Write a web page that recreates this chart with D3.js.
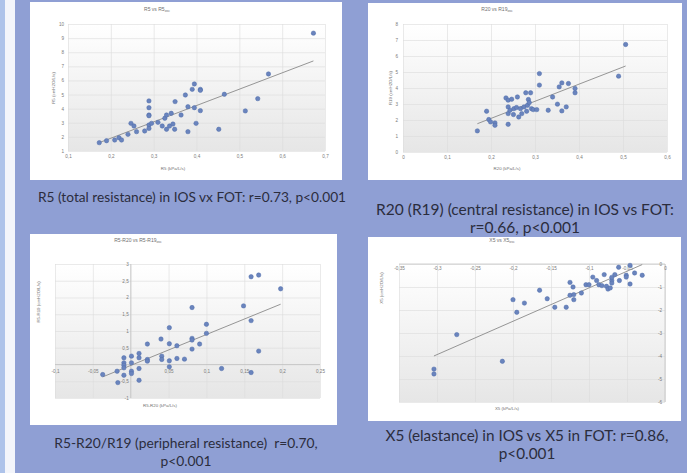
<!DOCTYPE html>
<html>
<head>
    <meta charset='utf-8'>
    <title>IOS vs FOT</title>
    <script src='https://cdn.jsdelivr.net/npm/d3@7'></script>
    <style>
        body { margin: 0; background: #8f9fd4; }
        svg { display: block; }
    </style>
</head>
<body>
    <svg width='687' height='473'></svg>
    <script>
        // ---- data ----
        // R5 vs R5osc
        const r5X = [0.173, 0.19, 0.209, 0.219, 0.225, 0.24, 0.247, 0.254, 0.26, 0.279, 0.289, 0.289, 0.289, 0.289, 0.289, 0.289, 0.295, 0.31, 0.32, 0.326, 0.33, 0.33, 0.337, 0.341, 0.345, 0.349, 0.35, 0.364, 0.374, 0.38, 0.38, 0.39, 0.395, 0.395, 0.399, 0.409, 0.409, 0.409, 0.452, 0.465, 0.514, 0.543, 0.568, 0.673]
        const r5Y = [1.59, 1.73, 1.78, 1.94, 1.78, 2.18, 2.96, 2.77, 2.37, 2.42, 4.55, 4.07, 3.55, 3.5, 2.84, 2.6, 2.96, 3.03, 2.77, 3.32, 3.55, 2.54, 2.77, 3.67, 2.91, 2.54, 4.5, 3.55, 4.97, 4.14, 2.37, 5.37, 5.75, 4.07, 2.96, 5.37, 5.3, 3.86, 2.54, 5.02, 3.84, 4.71, 6.46, 9.35]
        const r5Trend = [-0.41, 11.58]   // intercept, slope
        const r5XTicks = [0.1, 0.2, 0.3, 0.4, 0.5, 0.6, 0.7]
        const r5YTicks = [1, 2, 3, 4, 5, 6, 7, 8, 9, 10]

        // R20 vs R19osc
        const r20X = [0.169, 0.19, 0.195, 0.199, 0.209, 0.209, 0.234, 0.239, 0.239, 0.239, 0.239, 0.243, 0.247, 0.251, 0.252, 0.258, 0.26, 0.263, 0.267, 0.27, 0.275, 0.279, 0.281, 0.283, 0.285, 0.287, 0.29, 0.292, 0.296, 0.304, 0.31, 0.31, 0.33, 0.34, 0.351, 0.355, 0.361, 0.361, 0.371, 0.376, 0.391, 0.391, 0.49, 0.506]
        const r20Y = [1.32, 2.55, 2.03, 1.88, 1.82, 1.67, 3.38, 3.24, 2.82, 2.4, 1.73, 2.61, 3.3, 2.34, 2.71, 2.78, 3.44, 2.19, 2.71, 2.4, 2.82, 3.7, 2.55, 2.92, 3.28, 3.09, 3.7, 2.71, 2.65, 2.65, 4.9, 4.18, 2.61, 3.44, 2.99, 4.07, 4.32, 2.57, 2.82, 4.28, 3.97, 3.7, 4.74, 6.72]
        const r20Trend = [-0.04, 10.7]
        const r20XTicks = [0, 0.1, 0.2, 0.3, 0.4, 0.5, 0.6]
        const r20YTicks = [0, 1, 2, 3, 4, 5, 6, 7, 8]

        // R5-R20 vs R5-R19osc
        const perX = [-0.037, -0.018, -0.017, -0.009, -0.009, -0.009, -0.009, -0.009, 0.001, 0.001, 0.001, 0.001, 0.011, 0.011, 0.011, 0.011, 0.022, 0.022, 0.022, 0.04, 0.041, 0.041, 0.051, 0.051, 0.051, 0.051, 0.061, 0.061, 0.071, 0.081, 0.081, 0.081, 0.081, 0.091, 0.1, 0.1, 0.12, 0.149, 0.159, 0.159, 0.159, 0.169, 0.169, 0.198]
        const perY = [-0.3, -0.2, -0.54, 0.2, 0.05, -0.02, -0.1, -0.32, 0.25, 0.05, -0.2, -0.27, 0.33, 0.2, -0.12, -0.47, 0.61, 0.15, 0.1, 0.76, 0.25, 0.15, 1.1, 0.62, 0.11, -0.07, 0.56, 0.18, 0.16, 1.7, 0.78, 0.73, 0.46, 0.61, 1.2, 0.93, -0.12, 1.75, 2.62, 1.31, -0.24, 2.67, 0.4, 2.26]
        const perTrend = [-0.028, 9.23]
        const perXTicks = [-0.1, -0.05, 0, 0.05, 0.1, 0.15, 0.2, 0.25]
        const perYTicks = [-1, -0.5, 0, 0.5, 1, 1.5, 2, 2.5, 3]

        // X5 vs X5osc
        const x5X = [-0.304, -0.304, -0.274, -0.214, -0.2, -0.195, -0.185, -0.165, -0.155, -0.145, -0.13, -0.125, -0.125, -0.121, -0.12, -0.12, -0.11, -0.104, -0.1, -0.095, -0.09, -0.087, -0.083, -0.08, -0.077, -0.075, -0.072, -0.07, -0.07, -0.07, -0.066, -0.06, -0.061, -0.051, -0.051, -0.046, -0.046, -0.04, -0.03]
        const x5Y = [-4.57, -4.78, -3.07, -4.23, -1.55, -2.1, -1.7, -1.14, -1.51, -1.88, -1.88, -0.8, -1.36, -1.0, -1.55, -1.33, -1.26, -0.9, -0.9, -0.57, -0.72, -0.9, -0.94, -0.46, -0.97, -1.09, -1.04, -0.72, -0.58, -0.83, -0.46, -0.72, -0.14, -0.49, -0.57, -0.06, -0.87, -0.39, -0.49]
        const x5Trend = [0.41, 14.5]
        const x5XTicks = [-0.35, -0.3, -0.25, -0.2, -0.15, -0.1, -0.05, 0]
        const x5YTicks = [-6, -5, -4, -3, -2, -1, 0]

        const captions = [
            ['R5 (total resistance) in IOS vx FOT: r=0.73, p<0.001'],
            ['R20 (R19) (central resistance) in IOS vs FOT:', 'r=0.66, p<0.001'],
            ['R5-R20/R19 (peripheral resistance)  r=0.70,', 'p<0.001'],
            ['X5 (elastance) in IOS vs X5 in FOT: r=0.86,', 'p<0.001']
        ]

        // ---- drawing ----
        const svg = d3.select('svg')
        const comma = d3.formatLocale({ decimal: ',', thousands: '.', grouping: [3], currency: ['', ''], minus: '-' }).format('~g')

        // backdrop strips on the left
        svg.append('rect').attr('width', 687).attr('height', 473).attr('fill', '#8f9fd4')
        svg.append('rect').attr('x', 0).attr('width', 5).attr('height', 473).attr('fill', '#aec3ea')
        svg.append('rect').attr('x', 5).attr('width', 10).attr('height', 473).attr('fill', '#f3f5fb')

        const defs = svg.append('defs')
        const grad = defs.append('linearGradient').attr('id', 'plotfill')
            .attr('x1', 0).attr('y1', 0).attr('x2', 0).attr('y2', 1)
        grad.append('stop').attr('offset', '0%').attr('stop-color', '#ffffff')
        grad.append('stop').attr('offset', '100%').attr('stop-color', '#e6e6e6')

        const smallFont = 'Liberation Sans, Arial, sans-serif'

        function drawChart(c) {
            const g = svg.append('g')
            g.append('rect').attr('x', c.panel[0]).attr('y', c.panel[1])
                .attr('width', c.panel[2]).attr('height', c.panel[3]).attr('fill', '#ffffff')

            const x = d3.scaleLinear(d3.extent(c.xTicks), c.xRange)
            const y = d3.scaleLinear(d3.extent(c.yTicks), c.yRange)
            const left = Math.min(...c.xRange), right = Math.max(...c.xRange)
            const top = Math.min(...c.yRange), bottom = Math.max(...c.yRange)

            // plot area
            g.append('rect').attr('x', left).attr('y', top)
                .attr('width', right - left).attr('height', bottom - top)
                .attr('fill', 'url(#plotfill)')

            // grid
            const gx = g.append('g').attr('transform', `translate(0,${bottom})`)
                .call(d3.axisBottom(x).tickValues(c.xTicks).tickSize(-(bottom - top)).tickFormat(''))
            const gy = g.append('g').attr('transform', `translate(${left},0)`)
                .call(d3.axisLeft(y).tickValues(c.yTicks).tickSize(-(right - left)).tickFormat(''))
            gx.select('.domain').remove()
            gy.select('.domain').remove()
            g.selectAll('.tick line').attr('stroke', '#dcdcdc').attr('stroke-width', 0.6)

            // zero axis lines
            if (c.zeroAxes) {
                g.append('line').attr('x1', left).attr('x2', right)
                    .attr('y1', y(0)).attr('y2', y(0)).attr('stroke', '#bdbdbd').attr('stroke-width', 0.7)
                g.append('line').attr('x1', x(0)).attr('x2', x(0))
                    .attr('y1', top).attr('y2', bottom).attr('stroke', '#bdbdbd').attr('stroke-width', 0.7)
            }

            // tick labels
            const xLab = g.append('g').attr('transform', `translate(0,${c.xAxisAt(y)})`)
                .call(d3.axisBottom(x).tickValues(c.xTicks.filter(c.keepX)).tickSize(0).tickPadding(c.xPad).tickFormat(comma))
            const yLab = g.append('g').attr('transform', `translate(${c.yAxisAt(x)},0)`)
                .call(d3.axisLeft(y).tickValues(c.yTicks.filter(c.keepY)).tickSize(0).tickPadding(c.yPad).tickFormat(comma))
            xLab.select('.domain').remove()
            yLab.select('.domain').remove()
            ;[xLab, yLab].forEach(a => a.selectAll('text')
                .attr('font-family', smallFont).attr('font-size', 4.6).attr('fill', '#7a7a7a'))

            // trend line
            const ext = d3.extent(c.xs)
            g.append('line')
                .attr('x1', x(ext[0])).attr('y1', y(c.trend[0] + c.trend[1] * ext[0]))
                .attr('x2', x(ext[1])).attr('y2', y(c.trend[0] + c.trend[1] * ext[1]))
                .attr('stroke', '#8a8a8a').attr('stroke-width', 0.9)

            // points
            g.append('g').selectAll('circle').data(d3.zip(c.xs, c.ys)).join('circle')
                .attr('cx', d => x(d[0])).attr('cy', d => y(d[1])).attr('r', 2.2)
                .attr('fill', '#6a84bd').attr('stroke', '#4f6cab').attr('stroke-width', 0.5)

            // titles
            const t = g.append('text').attr('x', c.title[1]).attr('y', c.title[2])
                .attr('text-anchor', 'middle').attr('font-family', smallFont)
                .attr('font-size', 5).attr('fill', '#6f6f6f')
            t.append('tspan').text(c.title[0])
            t.append('tspan').attr('dy', 1.2).attr('font-size', 3.4).text('osc')

            g.append('text').attr('transform', `translate(${c.yTitle[1]},${c.yTitle[2]}) rotate(-90)`)
                .attr('text-anchor', 'middle').attr('font-family', smallFont)
                .attr('font-size', 4.4).attr('fill', '#6f6f6f').text(c.yTitle[0])
            g.append('text').attr('x', c.xTitle[1]).attr('y', c.xTitle[2])
                .attr('text-anchor', 'middle').attr('font-family', smallFont)
                .attr('font-size', 4.4).attr('fill', '#6f6f6f').text(c.xTitle[0])

            // caption
            c.caption.forEach((line, i) => {
                svg.append('text').attr('x', c.capPos[0]).attr('y', c.capPos[1] + i * c.capPos[3])
                    .attr('text-anchor', 'middle').attr('font-family', 'Lato, Open Sans, sans-serif')
                    .style('white-space', 'pre')
                    .attr('font-size', c.capPos[2]).attr('fill', '#2b2d3d').text(line)
            })
        }

        const all = () => true
        const notZero = v => v !== 0

        drawChart({
            panel: [30, 2, 312, 178], xs: r5X, ys: r5Y, trend: r5Trend,
            xTicks: r5XTicks, yTicks: r5YTicks, xRange: [68, 325], yRange: [151, 24],
            xAxisAt: y => 151, yAxisAt: x => 68, xPad: 4, yPad: 4, keepX: all, keepY: all,
            title: ['R5 vs R5', 157, 11], yTitle: ['R5 (cmH2O/L/s)', 55, 88], xTitle: ['R5 (kPa/L/s)', 173, 170],
            caption: captions[0], capPos: [192, 201.5, 13.7, 18]
        })
        drawChart({
            panel: [368, 3, 314, 177], xs: r20X, ys: r20Y, trend: r20Trend,
            xTicks: r20XTicks, yTicks: r20YTicks, xRange: [403, 667], yRange: [152, 24],
            xAxisAt: y => 152, yAxisAt: x => 403, xPad: 4, yPad: 5, keepX: all, keepY: all,
            title: ['R20 vs R19', 497, 11], yTitle: ['R19 (cmH2O/L/s)', 392, 88], xTitle: ['R20 (kPa/L/s)', 507, 170],
            caption: captions[1], capPos: [525, 215, 15.5, 17.5]
        })
        drawChart({
            panel: [30, 234, 307, 191], xs: perX, ys: perY, trend: perTrend,
            xTicks: perXTicks, yTicks: perYTicks, xRange: [55, 320], yRange: [398, 264], zeroAxes: true,
            xAxisAt: y => y(0), yAxisAt: x => x(0), xPad: 5, yPad: 2, keepX: notZero, keepY: notZero,
            title: ['R5-R20 vs R5-R19', 138, 242], yTitle: ['R5-R19 (cmH2O/L/s)', 40, 302], xTitle: ['R5-R20 (kPa/L/s)', 160, 407],
            caption: captions[2], capPos: [186, 448, 13.8, 18]
        })
        drawChart({
            panel: [368, 237, 313, 184], xs: x5X, ys: x5Y, trend: x5Trend,
            xTicks: x5XTicks, yTicks: x5YTicks, xRange: [399, 665], yRange: [402, 264], zeroAxes: true,
            xAxisAt: y => y(0), yAxisAt: x => x(0), xPad: 3, yPad: 3, keepX: all, keepY: all,
            title: ['X5 vs X5', 502, 242], yTitle: ['X5 (cmH2O/L/s)', 383, 288], xTitle: ['X5 (kPa/L/s)', 507, 410],
            caption: captions[3], capPos: [527, 441, 15.3, 18]
        })
    </script>
</body>
</html>
